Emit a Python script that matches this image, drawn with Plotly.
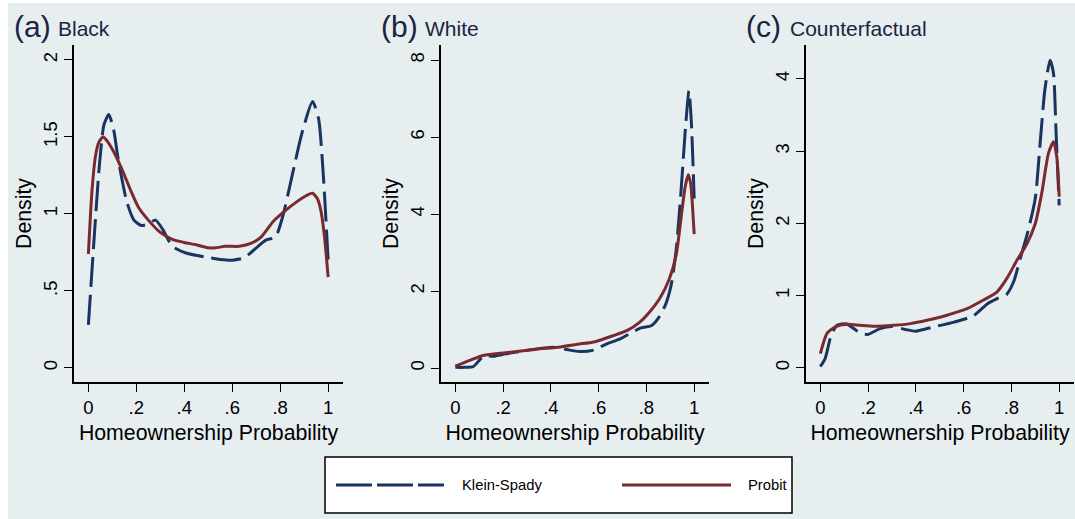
import plotly.graph_objects as go

W, H = 1075, 519

# ---------------- data ----------------
panel_letters = ["(a)", "(b)", "(c)"]
panel_names = ["Black", "White", "Counterfactual"]
series_names = ["Klein-Spady", "Probit"]

a_ks_x = [0, 0.02, 0.045, 0.065, 0.085, 0.105, 0.125, 0.16, 0.19, 0.22, 0.25, 0.28, 0.31, 0.35,
          0.41, 0.49, 0.55, 0.60, 0.65, 0.70, 0.74, 0.78, 0.81, 0.85, 0.89, 0.935, 0.96, 0.98, 1.0]
a_ks_y = [0.28, 0.75, 1.30, 1.58, 1.645, 1.55, 1.35, 1.08, 0.96, 0.925, 0.935, 0.96, 0.90, 0.79,
          0.745, 0.72, 0.705, 0.70, 0.715, 0.78, 0.83, 0.85, 0.98, 1.25, 1.52, 1.73, 1.62, 1.25, 0.70]
a_pr_x = [0, 0.015, 0.03, 0.045, 0.062, 0.08, 0.10, 0.14, 0.18, 0.21, 0.25, 0.30, 0.35, 0.40, 0.45,
          0.50, 0.53, 0.57, 0.63, 0.68, 0.72, 0.77, 0.82, 0.87, 0.91, 0.935, 0.955, 0.97, 0.985, 1.0]
a_pr_y = [0.74, 1.15, 1.38, 1.47, 1.50, 1.47, 1.42, 1.29, 1.14, 1.04, 0.96, 0.88, 0.835, 0.815, 0.80,
          0.78, 0.78, 0.79, 0.79, 0.81, 0.85, 0.95, 1.02, 1.08, 1.12, 1.135, 1.10, 1.02, 0.85, 0.59]

b_ks_x = [0, 0.04, 0.075, 0.10, 0.12, 0.16, 0.21, 0.27, 0.34, 0.41, 0.46, 0.52, 0.58, 0.63, 0.69,
          0.74, 0.78, 0.82, 0.85, 0.88, 0.905, 0.925, 0.945, 0.963, 0.978, 0.988, 0.995, 1.0]
b_ks_y = [0.02, 0.02, 0.04, 0.20, 0.32, 0.31, 0.37, 0.43, 0.50, 0.54, 0.49, 0.43, 0.47, 0.62, 0.76,
          0.93, 1.05, 1.10, 1.30, 1.65, 2.2, 3.1, 4.6, 6.2, 7.2, 6.4, 5.3, 4.4]
b_pr_x = [0, 0.06, 0.116, 0.23, 0.34, 0.44, 0.51, 0.58, 0.66, 0.72, 0.77, 0.81, 0.855, 0.895,
          0.925, 0.945, 0.962, 0.975, 0.985, 0.993, 1.0]
b_pr_y = [0.05, 0.20, 0.33, 0.41, 0.49, 0.55, 0.62, 0.68, 0.84, 0.98, 1.18, 1.43, 1.8, 2.3,
          2.95, 3.9, 4.7, 5.02, 4.8, 4.2, 3.48]

c_ks_x = [0, 0.02, 0.045, 0.07, 0.11, 0.14, 0.17, 0.20, 0.25, 0.30, 0.36, 0.40, 0.47, 0.56, 0.64,
          0.70, 0.74, 0.78, 0.81, 0.84, 0.87, 0.90, 0.92, 0.94, 0.962, 0.976, 0.987, 1.0]
c_ks_y = [0.02, 0.13, 0.45, 0.59, 0.61, 0.545, 0.475, 0.465, 0.545, 0.575, 0.53, 0.51, 0.565, 0.635,
          0.72, 0.89, 0.96, 1.02, 1.2, 1.55, 1.9, 2.35, 3.1, 3.85, 4.26, 4.08, 3.25, 2.25]
c_pr_x = [0, 0.028, 0.063, 0.112, 0.167, 0.223, 0.307, 0.377, 0.446, 0.53, 0.614, 0.683, 0.739,
          0.781, 0.823, 0.865, 0.90, 0.927, 0.955, 0.976, 0.99, 1.0]
c_pr_y = [0.2, 0.48, 0.57, 0.605, 0.59, 0.577, 0.59, 0.614, 0.66, 0.73, 0.82, 0.94, 1.05,
          1.24, 1.49, 1.72, 2.0, 2.42, 2.97, 3.13, 2.92, 2.37]

x_tickvals = [0, 0.2, 0.4, 0.6, 0.8, 1]
x_ticktext = ["0", ".2", ".4", ".6", ".8", "1"]
a_tickvals = [0, 0.5, 1, 1.5, 2]
a_ticktext = ["0", ".5", "1", "1.5", "2"]
b_tickvals = [0, 2, 4, 6, 8]
b_ticktext = ["0", "2", "4", "6", "8"]
c_tickvals = [0, 1, 2, 3, 4]
c_ticktext = ["0", "1", "2", "3", "4"]
x_title = "Homeownership Probability"
y_title = "Density"

# ---------------- style ----------------
NAVY = "#1a3460"
MAROON = "#7a2a2e"
BG = "#e6eef0"
GRID = "#e6eef0"
TITLE_COL = "#1c2340"
FONT = "Liberation Sans, Arial, sans-serif"

def px(x):
    return x / W

def py(y):
    return 1 - y / H

fig = go.Figure()

panels = [
    (a_ks_x, a_ks_y, a_pr_x, a_pr_y, a_tickvals, a_ticktext, [-0.091, 2.097], (74, 343)),
    (b_ks_x, b_ks_y, b_pr_x, b_pr_y, b_tickvals, b_ticktext, [-0.36, 8.39], (441, 709)),
    (c_ks_x, c_ks_y, c_pr_x, c_pr_y, c_tickvals, c_ticktext, [-0.194, 4.47], (806, 1074)),
]

layout = dict(
    width=W, height=H,
    margin=dict(l=0, r=0, t=0, b=0),
    paper_bgcolor="white",
    plot_bgcolor="white",
    showlegend=False,
    font=dict(family=FONT, color="black"),
)

annotations = []
shapes = [dict(type="rect", xref="paper", yref="paper", x0=px(8), x1=1, y0=0, y1=py(3),
               fillcolor=BG, line=dict(width=0), layer="below")]

for i, (kx, ky, prx, pry, tv, tt, yr, (xl, xr)) in enumerate(panels):
    n = "" if i == 0 else str(i + 1)
    xa = "x" + n
    ya = "y" + n
    fig.add_trace(go.Scatter(x=kx, y=ky, mode="lines", name=series_names[0], xaxis=xa, yaxis=ya,
                             line=dict(color=NAVY, width=3, dash="30px,8px", shape="spline", smoothing=0.6)))
    fig.add_trace(go.Scatter(x=prx, y=pry, mode="lines", name=series_names[1], xaxis=xa, yaxis=ya,
                             line=dict(color=MAROON, width=3, shape="spline", smoothing=0.6)))
    layout["xaxis" + n] = dict(
        domain=[px(xl), px(xr)], anchor=ya, range=[-0.06, 1.062],
        tickvals=x_tickvals, ticktext=x_ticktext, ticks="outside", ticklen=8, tickwidth=1.3,
        tickcolor="black", showline=True, linecolor="black", linewidth=1.5, showgrid=False,
        zeroline=False, tickfont=dict(size=18.5, family=FONT, color="black"),
        title=dict(text=x_title, font=dict(size=21.3, family=FONT, color="black"), standoff=8),
    )
    layout["yaxis" + n] = dict(
        domain=[py(382), py(45)], anchor=xa, range=yr,
        tickvals=tv, ticktext=tt, ticks="outside", ticklen=8, tickwidth=1.3, tickangle=-90,
        tickcolor="black", showline=True, linecolor="black", linewidth=1.5, showgrid=True,
        gridcolor=GRID, gridwidth=1.5, zeroline=False,
        tickfont=dict(size=18.5, family=FONT, color="black"),
        title=dict(text=y_title, font=dict(size=21.3, family=FONT, color="black"), standoff=2),
    )
    # panel titles
    annotations.append(dict(text=panel_letters[i], xref="paper", yref="paper", x=px(xl - 62), y=py(26),
                            xanchor="left", yanchor="middle", showarrow=False,
                            font=dict(size=30, family=FONT, color=TITLE_COL)))
    annotations.append(dict(text=panel_names[i], xref="paper", yref="paper", x=px(xl - 18), y=py(29),
                            xanchor="left", yanchor="middle", showarrow=False,
                            font=dict(size=21, family=FONT, color=TITLE_COL)))

# legend box
shapes.append(dict(type="rect", xref="paper", yref="paper", x0=px(325), x1=px(792), y0=py(513), y1=py(457),
                   fillcolor="white", line=dict(color="black", width=1.5)))
shapes.append(dict(type="line", xref="paper", yref="paper", x0=px(336), x1=px(444), y0=py(485), y1=py(485),
                   line=dict(color=NAVY, width=3.2, dash="36px,5px")))
shapes.append(dict(type="line", xref="paper", yref="paper", x0=px(622), x1=px(731), y0=py(485), y1=py(485),
                   line=dict(color=MAROON, width=3.2)))
annotations.append(dict(text=series_names[0], xref="paper", yref="paper", x=px(460), y=py(485),
                        xanchor="left", yanchor="middle", showarrow=False,
                        font=dict(size=14.8, family=FONT, color="black")))
annotations.append(dict(text=series_names[1], xref="paper", yref="paper", x=px(746), y=py(485),
                        xanchor="left", yanchor="middle", showarrow=False,
                        font=dict(size=14.8, family=FONT, color="black")))

layout["annotations"] = annotations
layout["shapes"] = shapes
fig.update_layout(**layout)

fig.write_html("out.html")
